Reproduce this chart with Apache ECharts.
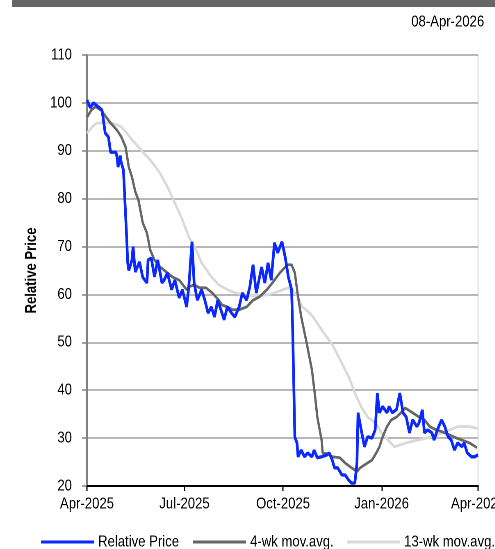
<!DOCTYPE html>
<html>
<head>
<meta charset="utf-8">
<script src="https://cdn.jsdelivr.net/npm/echarts@6/dist/echarts.min.js"></script>
<style>
html,body{margin:0;padding:0;background:#fff;overflow:hidden;}
#wrap{width:495px;height:549px;overflow:hidden;position:relative;}
#chart{width:604px;height:549px;transform:scaleX(0.82);transform-origin:0 0;position:absolute;left:0;top:0;}
</style>
</head>
<body>
<div id="wrap"><div id="chart"></div></div>
<script>
const titleDate = '08-Apr-2026';
const yTicks = [20, 30, 40, 50, 60, 70, 80, 90, 100, 110];
const monthNames = ['Jan','Feb','Mar','Apr','May','Jun','Jul','Aug','Sep','Oct','Nov','Dec'];
const seriesNames = ['Relative Price', '4-wk mov.avg.', '13-wk mov.avg.'];
const yAxisName = 'Relative Price';

const priceDates = ['2025-04-01','2025-04-04','2025-04-07','2025-04-12','2025-04-15','2025-04-18','2025-04-21','2025-04-23','2025-04-28','2025-04-29','2025-04-30','2025-05-02','2025-05-03','2025-05-05','2025-05-08','2025-05-09','2025-05-10','2025-05-13','2025-05-14','2025-05-16','2025-05-20','2025-05-23','2025-05-27','2025-05-28','2025-05-31','2025-06-03','2025-06-06','2025-06-10','2025-06-12','2025-06-15','2025-06-19','2025-06-22','2025-06-26','2025-06-29','2025-07-03','2025-07-05','2025-07-08','2025-07-10','2025-07-13','2025-07-17','2025-07-20','2025-07-23','2025-07-26','2025-07-29','2025-08-01','2025-08-05','2025-08-07','2025-08-10','2025-08-14','2025-08-17','2025-08-21','2025-08-24','2025-08-28','2025-08-31','2025-09-03','2025-09-06','2025-09-11','2025-09-14','2025-09-17','2025-09-20','2025-09-23','2025-09-26','2025-09-30','2025-10-03','2025-10-06','2025-10-09','2025-10-10','2025-10-12','2025-10-14','2025-10-15','2025-10-18','2025-10-21','2025-10-24','2025-10-28','2025-10-30','2025-11-02','2025-11-06','2025-11-11','2025-11-13','2025-11-16','2025-11-18','2025-11-21','2025-11-25','2025-11-28','2025-12-01','2025-12-04','2025-12-07','2025-12-09','2025-12-10','2025-12-13','2025-12-16','2025-12-19','2025-12-23','2025-12-26','2025-12-27','2025-12-28','2025-12-30','2026-01-02','2026-01-06','2026-01-08','2026-01-11','2026-01-15','2026-01-18','2026-01-21','2026-01-24','2026-01-27','2026-01-30','2026-02-03','2026-02-05','2026-02-08','2026-02-10','2026-02-13','2026-02-17','2026-02-19','2026-02-22','2026-02-26','2026-03-01','2026-03-04','2026-03-07','2026-03-10','2026-03-13','2026-03-17','2026-03-19','2026-03-22','2026-03-26','2026-03-29','2026-04-01'];
const priceValues = [100.6,99,100,99.1,98.5,93.7,92.9,89.7,89.7,88.7,86.6,89,87.5,86,72,66.6,65,67.2,70,64.7,66.8,63.6,62.4,67.2,67.6,63.7,67.2,62.4,63,64.5,61,63,59.3,61,57.4,61.6,71,62.4,58.8,61,58.8,56.1,57.4,55.3,58.8,56.1,54.7,57.4,56.1,55.3,57.4,60.3,58.8,61.6,66.2,60.3,65.7,62.4,66.6,63,70.8,68.7,71,67.8,63.6,61,52.6,30.2,29,26.1,27.5,26.1,26.9,26.1,27.5,25.9,26.1,26.5,26.9,25.4,23.8,23.8,22.3,22.3,21.3,20.6,20.6,24.8,35.3,31.7,28.2,30.3,30,31.7,35.3,39.4,35.3,36.6,35.3,36.6,35.3,36,39.4,35.3,34.4,31.1,33.8,32.4,33.2,35.9,31.1,31.7,31.1,29.6,31.7,33.8,32.4,30.3,29.6,27.5,29,28.2,29,26.9,26.1,26.1,26.5];

const ma4Dates = ['2025-04-01','2025-04-05','2025-04-09','2025-04-14','2025-04-19','2025-04-23','2025-04-29','2025-05-03','2025-05-07','2025-05-10','2025-05-13','2025-05-16','2025-05-19','2025-05-23','2025-05-27','2025-05-30','2025-06-03','2025-06-08','2025-06-14','2025-06-20','2025-06-26','2025-07-03','2025-07-05','2025-07-10','2025-07-15','2025-07-21','2025-07-27','2025-08-02','2025-08-05','2025-08-10','2025-08-15','2025-08-21','2025-08-28','2025-09-03','2025-09-09','2025-09-16','2025-09-21','2025-09-28','2025-10-05','2025-10-09','2025-10-12','2025-10-15','2025-10-18','2025-10-23','2025-10-28','2025-10-31','2025-11-02','2025-11-06','2025-11-07','2025-11-12','2025-11-16','2025-11-23','2025-11-28','2025-12-04','2025-12-09','2025-12-12','2025-12-16','2025-12-23','2025-12-27','2025-12-30','2026-01-02','2026-01-06','2026-01-10','2026-01-15','2026-01-20','2026-01-23','2026-01-30','2026-02-05','2026-02-10','2026-02-15','2026-02-21','2026-02-27','2026-03-05','2026-03-12','2026-03-17','2026-03-24','2026-03-31'];
const ma4Values = [97,98.5,99.2,98.5,97,95.8,94.3,92.9,90.8,86.6,84.5,81.5,79.7,75,72.8,69.3,67.2,65.8,64.7,63.6,63,61,61.6,62,61.4,61.4,60.3,58.8,57.8,57.4,56.8,56.8,57.4,58.8,59.5,61,62.4,64.5,66.2,66.2,64.5,59.5,55.3,49.9,44.2,38.6,34.4,29.6,26.9,26.7,26.1,25.9,24.8,23.8,23,23.8,24.4,25.4,26.9,28.2,30.3,32.4,33.8,34.4,35.5,36.3,35.3,34.4,33.8,32.4,31.7,31.3,30.7,30,29.6,29,28];

const ma13Dates = ['2025-04-01','2025-04-06','2025-04-10','2025-04-17','2025-04-23','2025-04-29','2025-05-03','2025-05-08','2025-05-13','2025-05-19','2025-05-24','2025-05-30','2025-06-08','2025-06-15','2025-06-22','2025-06-29','2025-07-05','2025-07-12','2025-07-17','2025-07-26','2025-08-02','2025-08-10','2025-08-18','2025-08-28','2025-09-06','2025-09-16','2025-09-25','2025-10-06','2025-10-14','2025-10-19','2025-10-26','2025-10-29','2025-11-07','2025-11-16','2025-11-20','2025-12-02','2025-12-07','2025-12-13','2025-12-19','2025-12-26','2026-01-01','2026-01-07','2026-01-13','2026-01-27','2026-02-12','2026-02-27','2026-03-13','2026-03-24','2026-04-01'];
const ma13Values = [93.7,95,95.8,95.8,95.8,95.4,95,93.7,92.3,90.8,89.5,88.1,85.4,82.5,79.1,75.6,72,69.3,66.6,63.7,62,61,60.3,59.9,59.7,59.9,60.5,61.4,59.9,57.4,56.1,55.3,52.3,49.5,47.8,42.5,39.4,36.5,34.4,33.2,31.1,29.6,28.2,29.2,30,31.1,32.4,32.4,32];

// Horizontal squeeze (emulates a narrow typeface); layout x-positions are given in screen px and divided by S.
const S = 0.82;
const W = 604;
const FONT = '"Liberation Sans", Arial, sans-serif';
const colors = ['#0a28ff', '#666666', '#d9d9d9'];

function zip(d, v) { return d.map((x, i) => [x, v[i]]); }
function px(x) { return x / S; }

const chart = echarts.init(document.getElementById('chart'), null, {renderer: 'canvas', devicePixelRatio: 2, width: W, height: 549});

function legendItem(name, left) {
  return {
    data: [name], left: px(left), top: 534, icon: 'rect', itemWidth: px(53), itemHeight: 3, itemGap: px(5),
    textStyle: {fontFamily: FONT, fontSize: 16, color: '#000', padding: [0, 0, 0, 0]},
    selectedMode: false, padding: 0
  };
}

chart.setOption({
  animation: false,
  color: colors,
  title: {
    text: titleDate, right: px(7), top: 9,
    textStyle: {fontFamily: FONT, fontSize: 16, fontWeight: 'normal', color: '#000'}
  },
  graphic: [
    {type: 'rect', left: px(12), top: 0, shape: {width: px(483) + 10, height: 7}, style: {fill: '#666666'}, silent: true},
    {type: 'text', x: px(31.5), y: 270.5, rotation: Math.PI / 2, scaleX: S, scaleY: 1 / S, silent: true,
     style: {text: yAxisName, fontFamily: FONT, fontSize: 16, fontWeight: 'bold', fill: '#000', align: 'center', verticalAlign: 'middle'}}
  ],
  legend: [legendItem(seriesNames[0], 41), legendItem(seriesNames[1], 193), legendItem(seriesNames[2], 347)],
  grid: {left: px(87), right: W - px(478), top: 55, bottom: 63, show: true, borderColor: '#c8c8c8', borderWidth: 1,
         containLabel: false, outerBoundsMode: 'none'},
  xAxis: {
    type: 'time', min: '2025-04-01', max: '2026-04-01', splitNumber: 4,
    axisLine: {show: true, lineStyle: {color: '#000', width: 2}},
    axisTick: {show: true, length: 5, lineStyle: {color: '#000', width: 1.5}},
    splitLine: {show: false},
    axisLabel: {
      fontFamily: FONT, fontSize: 16, color: '#000', margin: 10, showMinLabel: true, showMaxLabel: true,
      hideOverlap: false,
      formatter: function (val) { const d = new Date(val); return monthNames[d.getMonth()] + '-' + d.getFullYear(); }
    }
  },
  yAxis: {
    type: 'value', min: yTicks[0], max: yTicks[yTicks.length - 1], interval: 10,
    axisLine: {show: true, lineStyle: {color: '#808080', width: 2}},
    axisTick: {show: true, length: px(5), lineStyle: {color: '#808080', width: 1.5}},
    splitLine: {show: true, lineStyle: {color: '#a0a0a0', width: 1.5}},
    axisLabel: {fontFamily: FONT, fontSize: 16, color: '#000', margin: px(15)}
  },
  series: [
    {name: seriesNames[2], type: 'line', data: zip(ma13Dates, ma13Values), symbol: 'none', z: 2,
     lineStyle: {color: colors[2], width: 2.8}, itemStyle: {color: colors[2]}},
    {name: seriesNames[1], type: 'line', data: zip(ma4Dates, ma4Values), symbol: 'none', z: 3,
     lineStyle: {color: colors[1], width: 2.8}, itemStyle: {color: colors[1]}},
    {name: seriesNames[0], type: 'line', data: zip(priceDates, priceValues), symbol: 'none', z: 4,
     lineStyle: {color: colors[0], width: 3.3}, itemStyle: {color: colors[0]}}
  ]
});
</script>
</body>
</html>
